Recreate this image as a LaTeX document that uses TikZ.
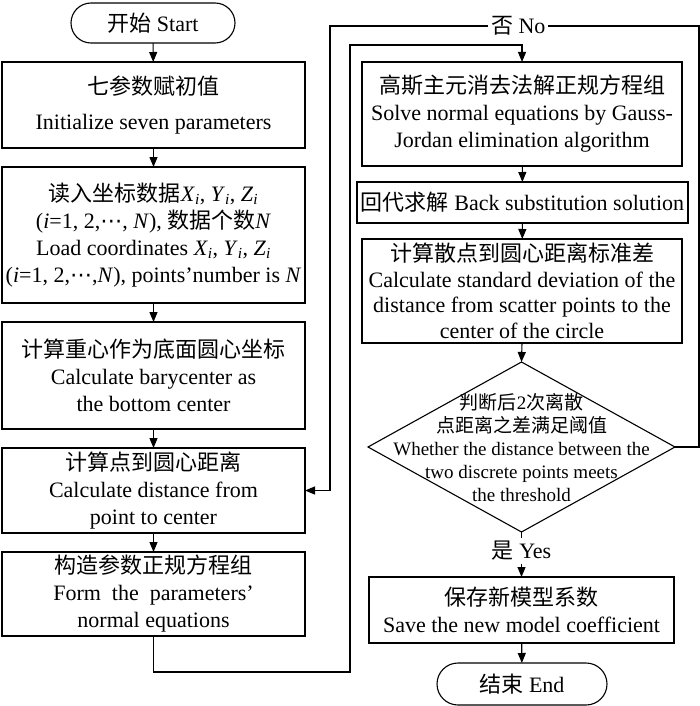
\documentclass[tikz,border=0pt]{standalone}
\usepackage{fontspec}
\setmainfont{Liberation Serif}
\newfontfamily\zh{Noto Sans CJK SC}
\newfontfamily\dv{DejaVu Sans}
\usetikzlibrary{shapes.geometric,arrows.meta}
\newcommand\myX{\textit{X}\textsubscript{\textit{i}}}
\newcommand\myY{\textit{Y}\textsubscript{\textit{i}}}
\newcommand\myZ{\textit{Z}\textsubscript{\textit{i}}}
\newcommand\mydots{{\dv ⋯}}
\begin{document}
\begin{tikzpicture}[x=1pt,y=1pt,
  every node/.style={font=\fontsize{22}{27}\selectfont, inner sep=0pt, outer sep=0pt},
  proc/.style={draw, line width=1.1pt, align=center, minimum width=303pt},
  term/.style={draw, line width=1.1pt, rounded corners=20pt, align=center},
  arr/.style={line width=1.1pt, -{Triangle[length=10pt,width=8pt]}},
  lbl/.style={fill=white, inner sep=3pt}
]
\useasboundingbox (0,0) rectangle (700,-706);

% left column
\node[term, minimum width=164pt, minimum height=40pt] (start) at (153,-23) {{\zh 开始} Start};
\node[proc, minimum height=86pt] (b1) at (153.5,-105) {{\zh 七参数赋初值}\\[8pt] Initialize seven parameters};
\node[proc, minimum height=136pt] (b2) at (153.5,-235) {{\zh 读入坐标数据}\myX, \myY, \myZ\\ (\textit{i}=1, 2,\mydots, \textit{N}), {\zh 数据个数}\textit{N}\\ Load coordinates \myX, \myY, \myZ\\ (\textit{i}=1, 2,\mydots,\textit{N}), points’number is \textit{N}};
\node[proc, minimum height=107pt] (b3) at (153.5,-375.5) {{\zh 计算重心作为底面圆心坐标}\\ Calculate barycenter as\\ the bottom center};
\node[proc, minimum height=85pt] (b4) at (153.5,-490.5) {{\zh 计算点到圆心距离}\\ Calculate distance from\\ point to center};
\node[proc, minimum height=84pt] (b5) at (153.5,-594) {{\zh 构造参数正规方程组}\\ Form\ \ the\ \ parameters’\\ normal equations};

% right column
\node[proc, minimum width=320pt, minimum height=104pt] (r1) at (522,-114) {{\zh 高斯主元消去法解正规方程组}\\ Solve normal equations by Gauss-\\ Jordan elimination algorithm};
\node[proc, minimum width=331pt, minimum height=41pt] (r2) at (522.5,-202.5) {{\zh 回代求解} Back substitution solution};
\node[proc, minimum width=320pt, minimum height=104pt, font=\fontsize{22}{25.5}\selectfont] (r3) at (522,-291) {{\zh 计算散点到圆心距离标准差}\\ Calculate standard deviation of the\\ distance from scatter points to the\\ center of the circle};
\node[draw, diamond, line width=1.1pt, minimum width=307pt, minimum height=170pt] (dec) at (521.5,-447) {};
\node[align=center, font=\fontsize{19}{23}\selectfont] (dect) at (521.5,-448) {{\zh 判断后}2{\zh 次离散}\\ {\zh 点距离之差满足阈值}\\ Whether the distance between the\\ two discrete points meets\\ the threshold};
\node[proc, minimum width=305pt, minimum height=66pt] (save) at (521.5,-610) {{\zh 保存新模型系数}\\ Save the new model coefficient};
\node[term, minimum width=170pt, minimum height=42pt, rounded corners=21pt] (end) at (522,-684) {{\zh 结束} End};

% connectors
\draw[arr] (start) -- (b1);
\draw[arr] (b1) -- (b2);
\draw[arr] (b2) -- (b3);
\draw[arr] (b3) -- (b4);
\draw[arr] (b4) -- (b5);
\draw[arr] (r1) -- (r2);
\draw[arr] (r2) -- (r3);
\draw[arr] (r3.south) -- (dec.north);
\draw[arr] (dec.south) -- node[lbl, pos=0.42] {{\zh 是} Yes} (save.north);
\draw[arr] (save) -- (end);

\coordinate (k1) at (350,-672);
\coordinate (k2) at (350,-45);
\draw[arr] (b5.south) |- (k1) -- (k2) -| (r1.north);

\coordinate (o1) at (699,-26);
\coordinate (o2) at (330,-26);
\draw[arr] (dec.east) -| (o1) -- node[lbl, pos=0.49] {{\zh 否} No} (o2) |- (b4.east);
\end{tikzpicture}
\end{document}
